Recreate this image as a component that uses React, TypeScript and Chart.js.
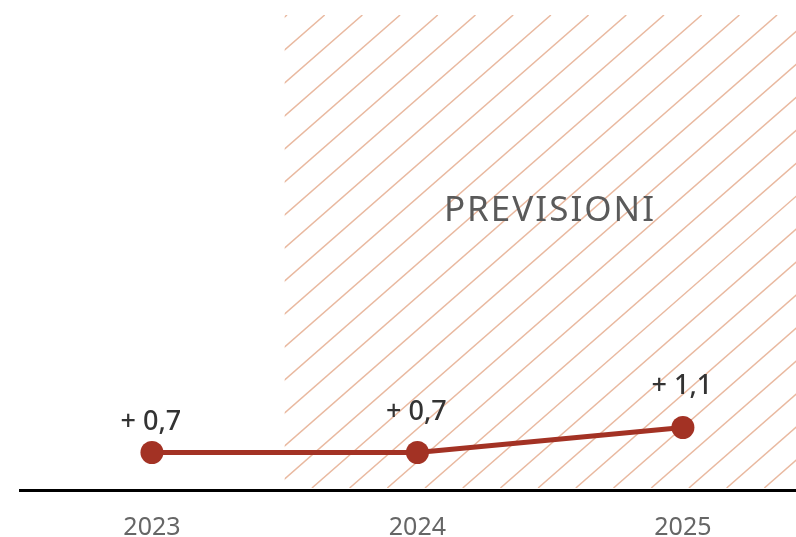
import React, { useEffect, useRef } from "react";
import { Chart, registerables } from "chart.js";

Chart.register(...registerables);

const years: number[] = [2023, 2024, 2025];
const values: number[] = [0.7, 0.7, 1.1];
const valueLabels: string[] = ["+ 0,7", "+ 0,7", "+ 1,1"];
const forecastStart = 2023.5;
const forecastText = "PREVISIONI";

const labelOffsets = [30, 40, 41];

const hatchPlugin = {
  id: "hatch",
  beforeDatasetsDraw(chart: any) {
    const { ctx, chartArea, scales } = chart;
    const x0 = scales.x.getPixelForValue(forecastStart);
    const x1 = chartArea.right;
    const top = chartArea.top;
    const bottom = chartArea.bottom - 2;
    ctx.save();
    ctx.beginPath();
    ctx.rect(x0, top, x1 - x0, bottom - top);
    ctx.clip();
    ctx.strokeStyle = "#e9b9a0";
    ctx.lineWidth = 1.5;
    const spacing = 37.7;
    const slope = 0.875;
    const h = bottom - top;
    const run = h / slope;
    const n = Math.ceil(run / spacing) + 1;
    for (let k = -n; x0 + 2.3 + k * spacing - run < x1 + spacing; k++) {
      const topX = x0 + 2.3 + k * spacing;
      ctx.beginPath();
      ctx.moveTo(topX - run, bottom);
      ctx.lineTo(topX, top);
      ctx.stroke();
    }
    ctx.restore();
    ctx.save();
    ctx.fillStyle = "#5a5a5a";
    ctx.font = "35px 'Noto Sans'";
    try { (ctx as any).letterSpacing = "2px"; } catch (e) {}
    ctx.textAlign = "center";
    ctx.textBaseline = "middle";
    ctx.fillText(forecastText, 550, 211);
    ctx.restore();
  },
};

const labelPlugin = {
  id: "valueLabels",
  afterDatasetsDraw(chart: any) {
    const { ctx } = chart;
    const meta = chart.getDatasetMeta(0);
    ctx.save();
    ctx.fillStyle = "#333333";
    ctx.font = "500 27px 'Noto Sans'";
    ctx.textAlign = "center";
    ctx.textBaseline = "middle";
    meta.data.forEach((pt: any, i: number) => {
      ctx.fillText(valueLabels[i], pt.x - 1, pt.y - labelOffsets[i]);
    });
    ctx.restore();
  },
};

export default function App() {
  const ref = useRef<HTMLCanvasElement>(null);
  useEffect(() => {
    document.body.style.margin = "0";
    const chart = new Chart(ref.current!, {
      type: "line",
      data: {
        datasets: [
          {
            data: years.map((y, i) => ({ x: y, y: values[i] })),
            borderColor: "#a33224",
            backgroundColor: "#a33224",
            borderWidth: 5,
            pointRadius: 11.5,
            pointHoverRadius: 11.5,
            pointBackgroundColor: "#a33224",
            pointBorderWidth: 0,
            tension: 0,
            clip: false as any,
          },
        ],
      },
      options: {
        animation: false,
        responsive: false,
        layout: { autoPadding: false, padding: { left: 20, right: 0, top: 15, bottom: 0 } },
        plugins: { legend: { display: false }, tooltip: { enabled: false } },
        scales: {
          x: {
            type: "linear",
            min: 2022.503,
            max: 2025.426,
            grid: { display: false, drawTicks: false },
            border: { display: true, color: "#000000", width: 3 },
            afterBuildTicks: (scale: any) => {
              scale.ticks = years.map((v) => ({ value: v }));
            },
            afterFit: (scale: any) => {
              scale.height = 47;
            },
            ticks: {
              color: "#666666",
              font: { family: "'Noto Sans'", size: 25, lineHeight: 1 },
              padding: 25,
              callback: (v: any) => String(v),
              maxRotation: 0,
            },
          },
          y: {
            display: false,
            min: 0.1,
            max: 7.7,
          },
        },
      },
      plugins: [hatchPlugin, labelPlugin],
    });
    return () => chart.destroy();
  }, []);
  return (
    <div style={{ width: 796, height: 537 }}>
      <canvas ref={ref} width={796} height={537} />
    </div>
  );
}
